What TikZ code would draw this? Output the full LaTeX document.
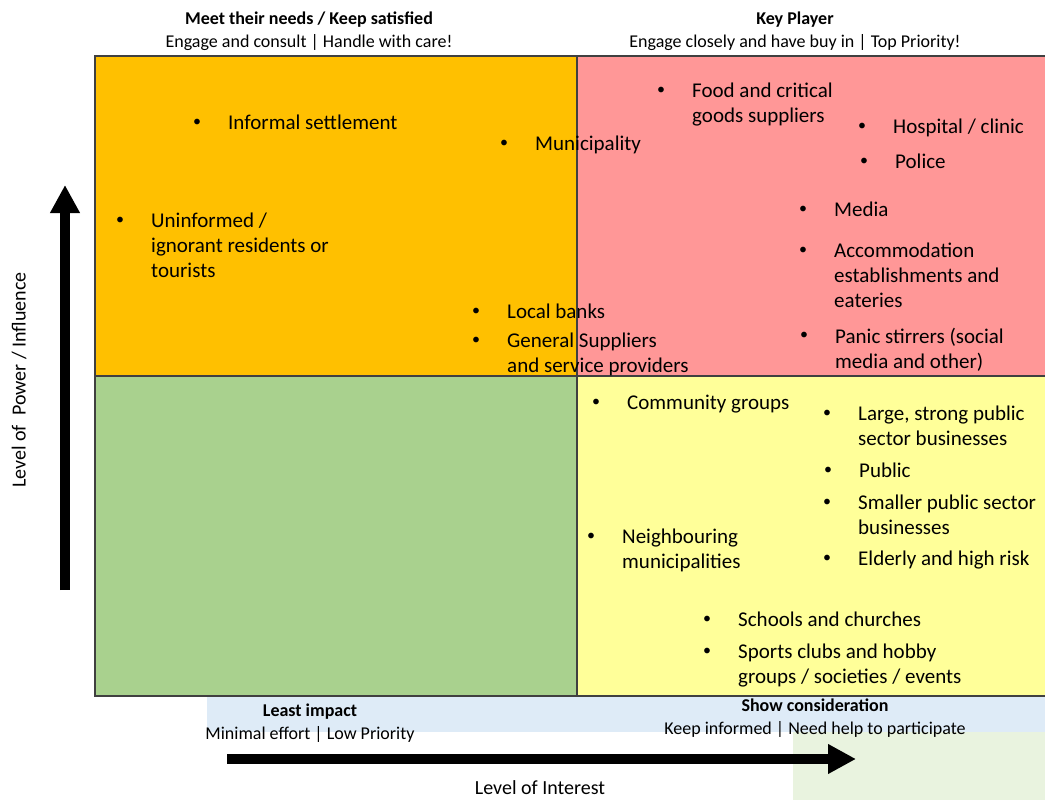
\documentclass[tikz,border=0pt]{standalone}
\usepackage{fontspec}
\setmainfont{Carlito}
\usetikzlibrary{arrows.meta,positioning}
\definecolor{needsfill}{HTML}{FFC000}
\definecolor{keyfill}{HTML}{FF9797}
\definecolor{leastfill}{HTML}{A9D18E}
\definecolor{showfill}{HTML}{FFFF99}
\definecolor{stripfill}{HTML}{DEEBF7}
\definecolor{cornerfill}{HTML}{E9F3DF}

\begin{document}
\begin{tikzpicture}[x=1pt,y=-1pt,
  quad/.style={draw=black!75, line width=1.6pt, anchor=north west, inner sep=0, minimum width=482pt, minimum height=320pt},
  dot/.style={inner sep=0, font=\fontsize{16}{20}\selectfont},
  item/.style={anchor=north west, align=left, inner sep=0, font=\fontsize{21}{25.3}\selectfont},
  head/.style={align=center, inner sep=0, font=\fontsize{18}{22.5}\selectfont},
  axislabel/.style={inner sep=0, font=\fontsize{20}{24}\selectfont},
  axis/.style={line width=10pt, -{Triangle[width=28pt,length=28pt]}}]
\useasboundingbox (0,0) rectangle (1045,800);

% backgrounds below the grid
\fill[stripfill] (207,695) rectangle (1050,732);
\fill[cornerfill] (793,732) rectangle (1050,805);

% the four quadrants
\node[quad, fill=needsfill] (needs) at (94,55) {};
\node[quad, fill=keyfill, minimum width=475pt] (key) at (576,55) {};
\node[quad, fill=leastfill] (least) at (94,375) {};
\node[quad, fill=showfill, minimum width=475pt] (show) at (576,375) {};

% quadrant titles
\node[head] (needs-t) at (309,31) {\textbf{Meet their needs / Keep satisfied}\\Engage and consult | Handle with care!};
\node[head] (key-t) at (795,31) {\textbf{Key Player}\\Engage closely and have buy in | Top Priority!};
\node[head] (least-t) at (310,723) {\textbf{Least impact}\\Minimal effort | Low Priority};
\node[head] (show-t) at (815,718) {\textbf{Show consideration}\\Keep informed | Need help to participate};

% stakeholders
\foreach \nm/\bx/\by/\txt in {
  settle/197/122/{Informal settlement},
  munic/504/143/{Municipality},
  uninf/120/220/{Uninformed /\\ignorant residents or\\tourists},
  banks/476/311/{Local banks},
  gensup/476/340/{General Suppliers\\and service providers},
  food/661/90/{Food and critical\\goods suppliers},
  hosp/862/126/{Hospital / clinic},
  police/864/161/{Police},
  media/803/209/{Media},
  accom/803/250/{Accommodation\\establishments and\\eateries},
  panic/804/335/{Panic stirrers (social\\media and other)},
  commun/596/402/{Community groups},
  large/827/413/{Large, strong public\\sector businesses},
  public/828/470/{Public},
  small/827/502/{Smaller public sector\\businesses},
  elder/827/558/{Elderly and high risk},
  neigh/591/536/{Neighbouring\\municipalities},
  school/707/619/{Schools and churches},
  sport/707/651/{Sports clubs and hobby\\groups / societies / events}}
{
  \node[dot] (\nm-dot) at (\bx,\by+1) {\textbullet};
  \node[item] (\nm) at (\bx+31,\by-7.5) {\txt};
}

% axes
\coordinate (powlo) at (65,590);
\coordinate (powhi) at (65,185);
\draw[axis] (powlo) -- (powhi);
\node[axislabel, rotate=90] (powlab) at (19,380) {Level of\ \ Power / Influence};
\coordinate (intlo) at (227,759);
\coordinate (inthi) at (856,759);
\draw[axis] (intlo) -- (inthi);
\node[axislabel] (intlab) at (540,788) {Level of Interest};
\end{tikzpicture}
\end{document}
